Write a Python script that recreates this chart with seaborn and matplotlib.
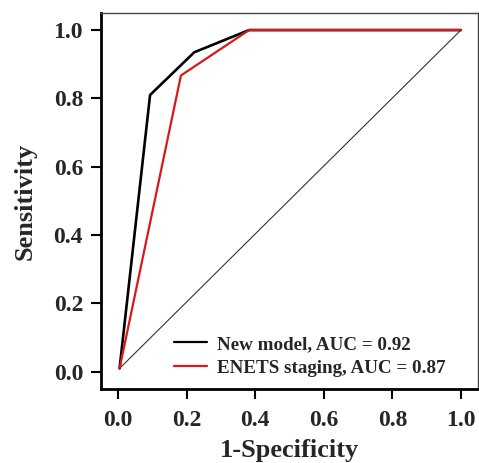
import matplotlib
matplotlib.use("Agg")
import matplotlib.pyplot as plt
import seaborn as sns

# ROC points
new_fpr = [0.004, 0.093, 0.222, 0.382, 1.0]
new_tpr = [0.01, 0.81, 0.935, 1.0, 1.0]
enets_fpr = [0.004, 0.183, 0.382, 1.0]
enets_tpr = [0.01, 0.867, 1.0, 1.0]
diag_x = [0.004, 1.0]
diag_y = [0.01, 1.0]
labels = ["New model, AUC = 0.92", "ENETS staging, AUC = 0.87"]
ticks = [0.0, 0.2, 0.4, 0.6, 0.8, 1.0]

sns.set_style("white")
plt.rcParams['font.family'] = ['Liberation Serif', 'DejaVu Serif']
plt.rcParams['font.weight'] = 'bold'

fig = plt.figure(figsize=(4.79, 4.63), dpi=100)
ax = fig.add_axes([0.211, 0.16, 0.787, 0.812])

sns.lineplot(x=diag_x, y=diag_y, ax=ax, color='#333333', lw=0.8, sort=False)
sns.lineplot(x=new_fpr, y=new_tpr, ax=ax, color='black', lw=1.9, sort=False, label=labels[0])
sns.lineplot(x=enets_fpr, y=enets_tpr, ax=ax, color='#d7191c', lw=1.6, sort=False, label=labels[1])

ax.set_xlim(-0.05, 1.05)
ax.set_ylim(-0.05, 1.05)
ax.set_xticks(ticks)
ax.set_yticks(ticks)
ax.set_xticklabels([f"{t:.1f}" for t in ticks], fontsize=17, fontweight='bold')
ax.set_yticklabels([f"{t:.1f}" for t in ticks], fontsize=17, fontweight='bold')
ax.tick_params(axis='both', direction='out', length=7, width=1.5, color='black',
               bottom=True, left=True)
ax.tick_params(axis='x', pad=8)
ax.tick_params(axis='y', pad=6)
ax.set_xlabel("1-Specificity", fontsize=19, fontweight='bold', labelpad=6)
ax.set_ylabel("Sensitivity", fontsize=19, fontweight='bold', labelpad=12)

for s in ['left', 'bottom']:
    ax.spines[s].set_linewidth(2.0)
    ax.spines[s].set_color('black')
for s in ['top', 'right']:
    ax.spines[s].set_linewidth(1.0)
    ax.spines[s].set_color('#444444')

leg = ax.legend(loc='lower right', bbox_to_anchor=(0.935, 0.012), frameon=False,
                fontsize=13.7, handlelength=1.75, handletextpad=0.55, labelspacing=0.35,
                borderaxespad=0)
for t in leg.get_texts():
    t.set_fontweight('bold')
for h in leg.get_lines():
    h.set_linewidth(1.6)

fig.savefig("out.png", dpi=100)
